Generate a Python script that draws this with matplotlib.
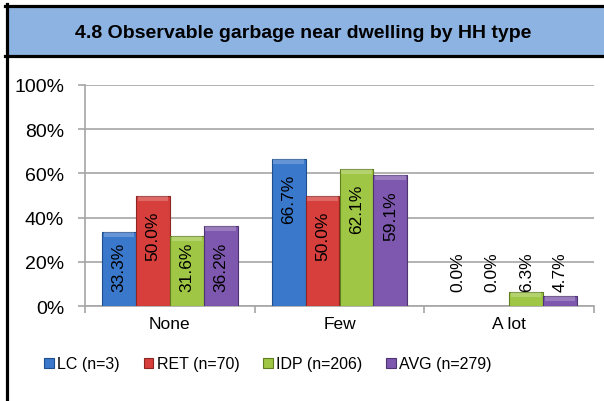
import matplotlib.pyplot as plt
import numpy as np
from matplotlib.patches import Rectangle
from matplotlib.lines import Line2D

plt.rcParams['font.family'] = ['Liberation Sans', 'DejaVu Sans']

# data
title = "4.8 Observable garbage near dwelling by HH type"
categories = ["None", "Few", "A lot"]
series = ["LC (n=3)", "RET (n=70)", "IDP (n=206)", "AVG (n=279)"]
lc = [33.3, 66.7, 0.0]
ret = [50.0, 50.0, 0.0]
idp = [31.6, 62.1, 6.3]
avg = [36.2, 59.1, 4.7]
colors = ["#3A78CC", "#D63F3C", "#A0C645", "#7E58AE"]
edges = ["#1F4E8C", "#8E2522", "#5F7F1F", "#4E3373"]

values = [lc, ret, idp, avg]

fig = plt.figure(figsize=(6.04, 4.02), dpi=100)
W, H = 604, 402

def fx(px):
    return px / W

def fy(py):
    return 1 - py / H

# title box and frame
fig.patches.append(Rectangle((fx(6), fy(57)), 1 - fx(6), fy(7) - fy(57),
                             transform=fig.transFigure, facecolor="#8DB3E2",
                             edgecolor="none", zorder=0))
fig.lines.append(Line2D([fx(6.5), fx(6.5)], [0, fy(5)], transform=fig.transFigure,
                        color="black", lw=2.3))
fig.lines.append(Line2D([fx(5), 1], [fy(6.5), fy(6.5)], transform=fig.transFigure,
                        color="black", lw=2.3))
fig.lines.append(Line2D([fx(5), 1], [fy(57), fy(57)], transform=fig.transFigure,
                        color="black", lw=2.3))
fig.text(fx(303), fy(33), title, ha="center", va="center",
         fontsize=14, fontweight="bold")

ax = fig.add_axes([fx(85), fy(307), fx(594) - fx(85), fy(86) - fy(307)])

x = np.arange(len(categories))
width = 0.2
bevel = 2.3
for i, (vals, name) in enumerate(zip(values, series)):
    pos = x + (i - 1.5) * width
    vals = np.array(vals)
    ax.bar(pos, vals, width, color=colors[i], edgecolor=edges[i], linewidth=0.8,
           label=name, zorder=3)
    # light bevel strip at top of each bar
    shown = vals > 0
    ax.bar(pos[shown], np.minimum(bevel, vals[shown]), width * 0.9,
           bottom=vals[shown] - np.minimum(bevel, vals[shown]),
           color="white", alpha=0.22, linewidth=0, zorder=3.5)
    for p, v in zip(pos, vals):
        lab = "%.1f%%" % v
        if v < 40:
            ax.text(p, 6.8, lab, rotation=90, ha="center", va="bottom",
                    fontsize=12.5, zorder=4)
        else:
            ax.text(p, v - 6.8, lab, rotation=90, ha="center", va="top",
                    fontsize=12.5, zorder=4)

ax.set_xlim(-0.5, len(categories) - 0.5)
ax.set_ylim(0, 100)
ax.set_yticks(np.arange(0, 101, 20))
ax.set_yticklabels(["%d%%" % t for t in range(0, 101, 20)], fontsize=14)
ax.yaxis.grid(True, color="#A6A6A6", lw=1.2, zorder=0)
ax.set_xticks(x)
ax.set_xticklabels(categories, fontsize=12.5)
ax.set_xticks(np.arange(-0.5, len(categories), 1), minor=True)
ax.tick_params(axis="x", which="major", length=0, pad=7)
ax.tick_params(axis="x", which="minor", length=5, color="#A6A6A6", width=1.2)
ax.tick_params(axis="y", length=5, color="#A6A6A6", width=1.2, pad=10)
for s in ["top", "right"]:
    ax.spines[s].set_visible(False)
for s in ["left", "bottom"]:
    ax.spines[s].set_color("#A6A6A6")
    ax.spines[s].set_linewidth(1.2)

fig.legend(loc="center", bbox_to_anchor=(fx(268), fy(365)), ncol=4, frameon=False,
           fontsize=11.5, handlelength=0.6, handleheight=0.6, handletextpad=0.2,
           columnspacing=1.5)

fig.savefig("out.png", dpi=100)
